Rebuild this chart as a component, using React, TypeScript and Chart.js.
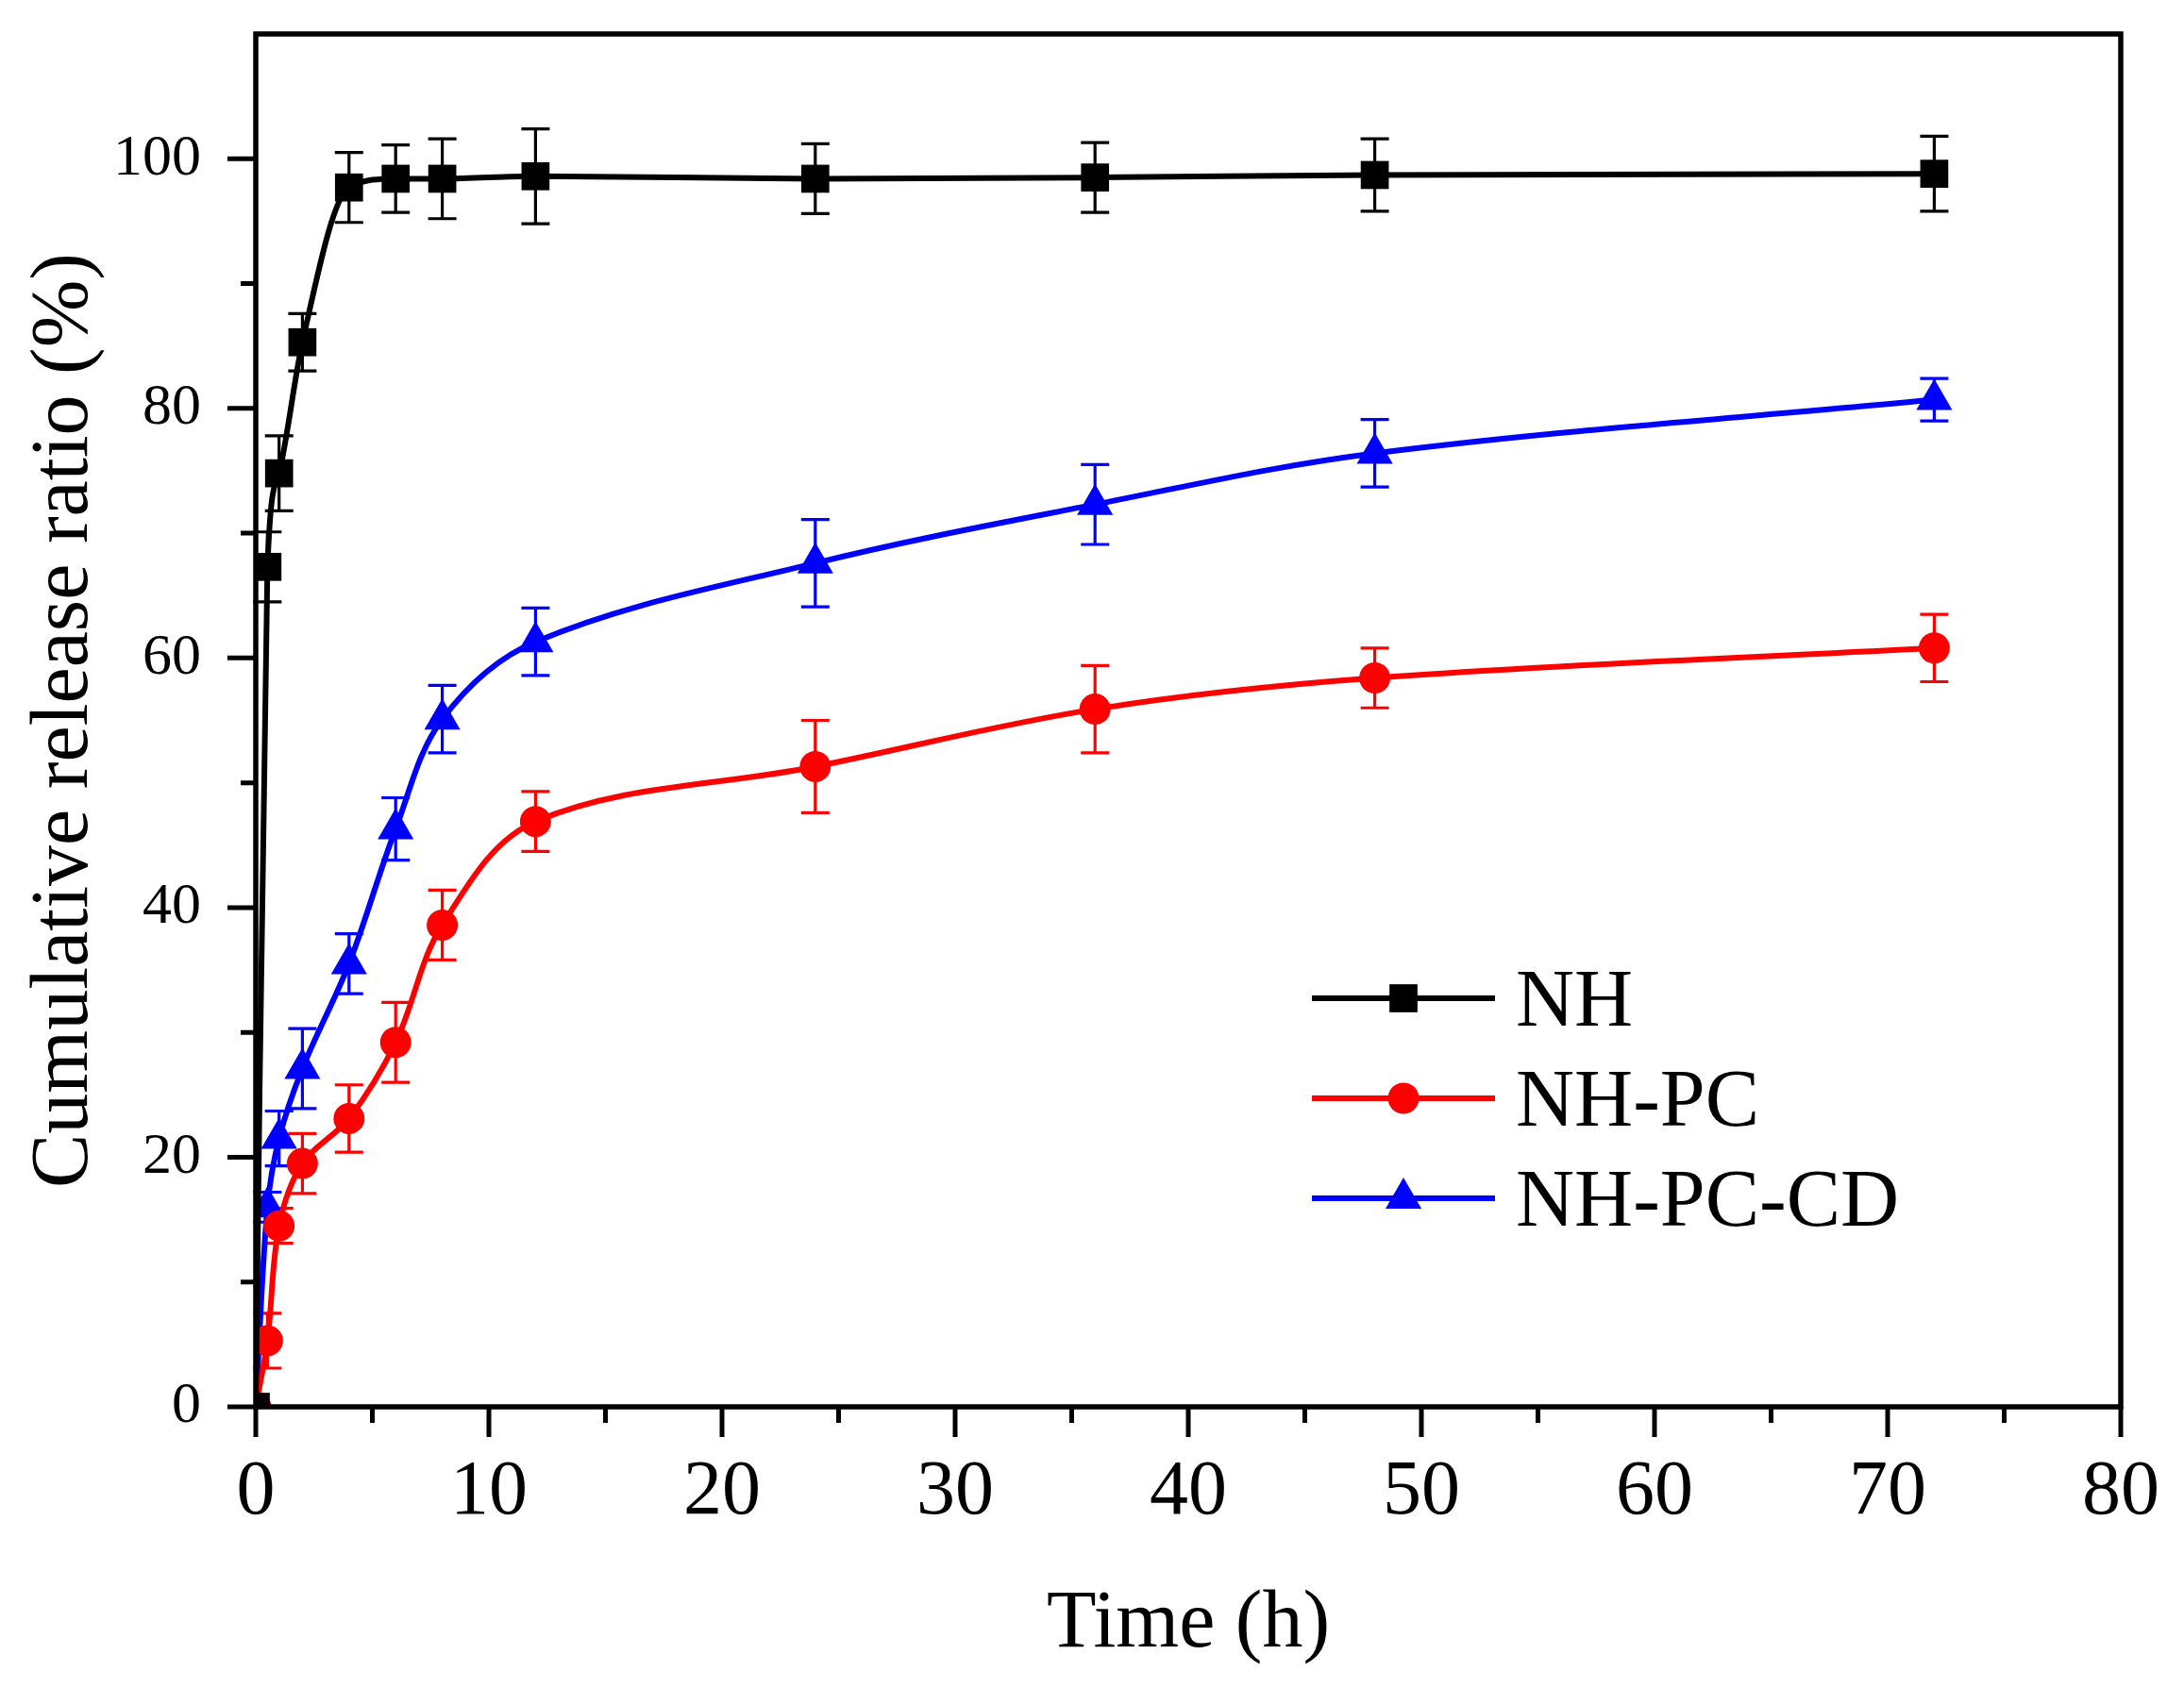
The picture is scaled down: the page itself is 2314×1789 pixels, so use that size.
import { useEffect, useRef } from 'react';
import Chart from 'chart.js/auto';
import { drawPoint } from 'chart.js/helpers';

// sampling times (h) and cumulative release (%) with error bars
const timeH = [0, 0.5, 1, 2, 4, 6, 8, 12, 24, 36, 48, 72];
const nhRelease = [0, 67.3, 74.8, 85.3, 97.7, 98.4, 98.4, 98.6, 98.4, 98.5, 98.7, 98.8];
const nhError = [0, 2.8, 3.0, 2.3, 2.8, 2.7, 3.2, 3.8, 2.8, 2.8, 2.9, 3.0];
const pcRelease = [0, 5.3, 14.5, 19.5, 23.1, 29.2, 38.6, 46.9, 51.3, 55.9, 58.4, 60.8];
const pcError = [0, 2.2, 1.4, 2.4, 2.7, 3.2, 2.8, 2.4, 3.7, 3.5, 2.4, 2.7];
const cdRelease = [0, 16.0, 21.5, 27.1, 35.5, 46.3, 55.1, 61.3, 67.6, 72.3, 76.4, 80.7];
const cdError = [0, 1.2, 2.2, 3.2, 2.4, 2.5, 2.7, 2.7, 3.5, 3.2, 2.7, 1.7];

const seriesLabels = ['NH', 'NH-PC', 'NH-PC-CD'];
const xMajorTicks = [0, 10, 20, 30, 40, 50, 60, 70, 80];
const xMinorTicks = [5, 15, 25, 35, 45, 55, 65, 75];
const yMajorTicks = [0, 20, 40, 60, 80, 100];
const yMinorTicks = [10, 30, 50, 70, 90];

const FONT = "'Liberation Serif', 'Times New Roman', serif";

const toPoints = (vals: number[]) => timeH.map((t, i) => ({ x: t, y: vals[i] }));

// outward ticks + closed frame, Origin style
const axesPlugin = {
  id: 'originAxes',
  afterDatasetsDraw(chart: any) {
    const { ctx, chartArea: a, scales } = chart;
    const xs = scales.x;
    const ys = scales.y;
    ctx.save();
    ctx.strokeStyle = '#000';
    ctx.lineWidth = 5;
    ctx.beginPath();
    const tick = (px: number, py: number, dx: number, dy: number) => {
      ctx.moveTo(px, py);
      ctx.lineTo(px + dx, py + dy);
    };
    xMajorTicks.forEach((v) => tick(xs.getPixelForValue(v), a.bottom, 0, 32));
    xMinorTicks.forEach((v) => tick(xs.getPixelForValue(v), a.bottom, 0, 17));
    yMajorTicks.forEach((v) => tick(a.left, ys.getPixelForValue(v), -30, 0));
    yMinorTicks.forEach((v) => tick(a.left, ys.getPixelForValue(v), -16, 0));
    ctx.stroke();
    ctx.lineWidth = 5.5;
    ctx.strokeRect(a.left, a.top, a.right - a.left, a.bottom - a.top);
    ctx.restore();
  },
};

const errorBarPlugin = {
  id: 'errorBars',
  beforeDatasetsDraw(chart: any) {
    const { ctx, scales } = chart;
    const xs = scales.x;
    const ys = scales.y;
    ctx.save();
    ctx.lineWidth = 3.2;
    chart.data.datasets.forEach((ds: any) => {
      ctx.strokeStyle = ds.borderColor;
      ctx.beginPath();
      ds.data.forEach((p: any, i: number) => {
        const e = ds.errors[i];
        if (!e) return;
        const px = xs.getPixelForValue(p.x);
        const top = ys.getPixelForValue(p.y + e);
        const bot = ys.getPixelForValue(p.y - e);
        ctx.moveTo(px, top);
        ctx.lineTo(px, bot);
        ctx.moveTo(px - 15, top);
        ctx.lineTo(px + 15, top);
        ctx.moveTo(px - 15, bot);
        ctx.lineTo(px + 15, bot);
      });
      ctx.stroke();
    });
    ctx.restore();
  },
};

const legendPlugin = {
  id: 'insetLegend',
  afterDraw(chart: any) {
    const { ctx } = chart;
    ctx.save();
    ctx.font = `86px ${FONT}`;
    ctx.textAlign = 'left';
    ctx.textBaseline = 'alphabetic';
    chart.data.datasets.forEach((ds: any, i: number) => {
      const yy = 1058 + i * 106;
      ctx.strokeStyle = ds.borderColor;
      ctx.lineWidth = 6;
      ctx.beginPath();
      ctx.moveTo(1390, yy);
      ctx.lineTo(1584, yy);
      ctx.stroke();
      ctx.fillStyle = ds.backgroundColor;
      drawPoint(ctx, { pointStyle: ds.pointStyle, radius: ds.pointRadius, borderWidth: 0, rotation: 0 } as any, 1487, yy);
      ctx.fillStyle = '#000';
      ctx.fillText(ds.label, 1606, yy + 29);
    });
    ctx.restore();
  },
};

export default function App() {
  const canvasRef = useRef<HTMLCanvasElement | null>(null);
  const chartRef = useRef<Chart | null>(null);

  useEffect(() => {
    document.body.style.margin = '0';
    if (!canvasRef.current) return;
    if (chartRef.current) chartRef.current.destroy();

    const common = {
      borderWidth: 6,
      pointBorderWidth: 0,
      pointHoverRadius: 0,
      fill: false,
    };

    chartRef.current = new Chart(canvasRef.current, {
      type: 'line',
      data: {
        datasets: [
          {
            ...common,
            label: seriesLabels[0],
            data: toPoints(nhRelease),
            errors: nhError,
            borderColor: '#000000',
            backgroundColor: '#000000',
            pointStyle: 'rect',
            pointRadius: 21,
            cubicInterpolationMode: 'monotone',
          } as any,
          {
            ...common,
            label: seriesLabels[1],
            data: toPoints(pcRelease),
            errors: pcError,
            borderColor: '#ff0000',
            backgroundColor: '#ff0000',
            pointStyle: 'circle',
            pointRadius: 16.5,
            tension: 0.35,
          } as any,
          {
            ...common,
            label: seriesLabels[2],
            data: toPoints(cdRelease),
            errors: cdError,
            borderColor: '#0000ff',
            backgroundColor: '#0000ff',
            pointStyle: 'triangle',
            pointRadius: 22,
            tension: 0.35,
          } as any,
        ],
      },
      options: {
        animation: false,
        responsive: true,
        maintainAspectRatio: false,
        events: [],
        layout: { autoPadding: false, padding: { left: 0, top: 36, right: 67, bottom: 0 } },
        plugins: {
          legend: { display: false },
          tooltip: { enabled: false },
        },
        scales: {
          x: {
            type: 'linear',
            min: 0,
            max: 80,
            afterBuildTicks: (scale: any) => {
              scale.ticks = xMajorTicks.map((v) => ({ value: v }));
            },
            afterFit: (scale: any) => {
              scale.height = 298;
              scale.paddingLeft = 0;
              scale.paddingRight = 0;
            },
            grid: { display: true, drawOnChartArea: false, drawTicks: false },
            border: { display: false },
            ticks: {
              color: '#000',
              padding: 42,
              maxRotation: 0,
              font: { family: FONT, size: 82 },
            },
            title: {
              display: true,
              text: 'Time (h)',
              color: '#000',
              padding: { top: 0, bottom: 15 },
              font: { family: FONT, size: 86 },
            },
          },
          y: {
            type: 'linear',
            min: 0,
            max: 110,
            afterBuildTicks: (scale: any) => {
              scale.ticks = yMajorTicks.map((v) => ({ value: v }));
            },
            afterFit: (scale: any) => {
              scale.width = 271;
              scale.paddingTop = 0;
              scale.paddingBottom = 0;
            },
            grid: { display: true, drawOnChartArea: false, drawTicks: false },
            border: { display: false },
            ticks: {
              color: '#000',
              padding: 58,
              font: { family: FONT, size: 62 },
            },
            title: {
              display: true,
              text: 'Cumulative release ratio (%)',
              color: '#000',
              padding: { top: 18, bottom: 0 },
              font: { family: FONT, size: 86 },
            },
          },
        },
      },
      plugins: [errorBarPlugin, axesPlugin, legendPlugin],
    } as any);

    return () => {
      if (chartRef.current) {
        chartRef.current.destroy();
        chartRef.current = null;
      }
    };
  }, []);

  return (
    <div style={{ width: 2314, height: 1789, position: 'relative', background: '#fff' }}>
      <canvas ref={canvasRef} />
    </div>
  );
}
